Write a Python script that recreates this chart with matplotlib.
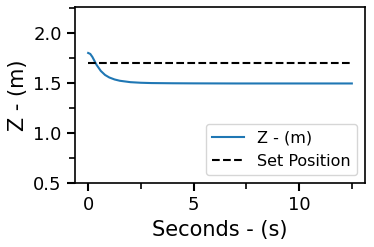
import matplotlib
matplotlib.use("Agg")
import matplotlib.pyplot as plt
from matplotlib.ticker import MultipleLocator

t = [0, 0.1, 0.2, 0.3, 0.4, 0.5, 0.6, 0.8, 1.0, 1.25, 1.5, 2.0, 2.5, 3.0, 4.0, 5.0, 7.0, 10.0, 12.5]
z = [1.80, 1.79, 1.76, 1.72, 1.68, 1.65, 1.62, 1.58, 1.555, 1.535, 1.522, 1.508, 1.502, 1.499, 1.497, 1.496, 1.495, 1.495, 1.495]
set_t = [0, 12.5]
set_z = [1.7, 1.7]

fig = plt.figure(figsize=(3.74, 2.47), dpi=100)
ax = fig.add_axes([0.2005, 0.259, 0.7755, 0.713])
ax.plot(t, z, color="#1f77b4", lw=1.5, label="Z - (m)")
ax.plot(set_t, set_z, color="black", ls="--", lw=1.5, label="Set Position")
ax.set_xlim(-0.625, 13.125)
ax.set_ylim(0.5, 2.26)
ax.xaxis.set_major_locator(MultipleLocator(5))
ax.xaxis.set_minor_locator(MultipleLocator(2.5))
ax.yaxis.set_major_locator(MultipleLocator(0.5))
ax.yaxis.set_minor_locator(MultipleLocator(0.25))
ax.tick_params(which="major", length=6, width=1.5, labelsize=13)
ax.tick_params(which="minor", length=4, width=1.2)
for s in ax.spines.values():
    s.set_linewidth(1.2)
ax.set_xlabel("Seconds - (s)", fontsize=15)
ax.set_ylabel("Z - (m)", fontsize=15)
ax.legend(loc="lower right", fontsize=11.5)
fig.savefig("out.png", dpi=100)
